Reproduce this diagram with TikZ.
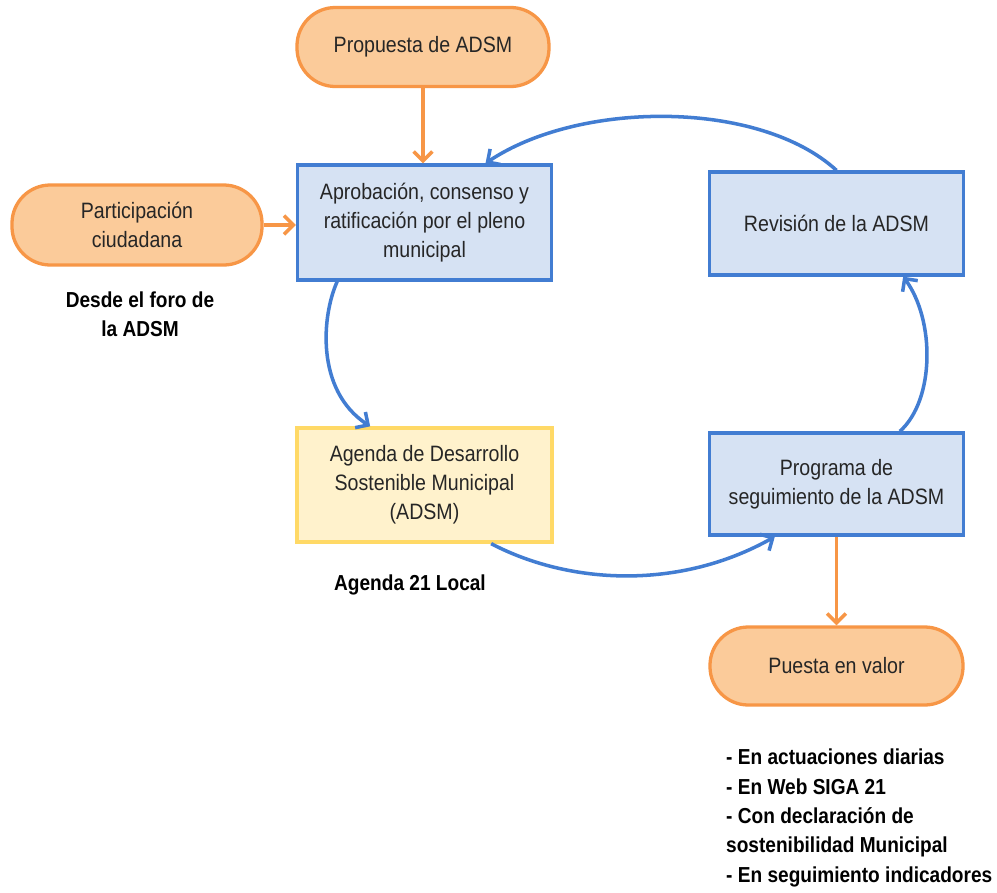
\documentclass[tikz,border=0pt]{standalone}
\usepackage{fontspec}
\setmainfont{Liberation Sans}[FakeStretch=0.88]
\usetikzlibrary{arrows.meta}
\definecolor{orfill}{RGB}{251,203,154}
\definecolor{ordraw}{RGB}{247,150,70}
\definecolor{blfill}{RGB}{214,226,243}
\definecolor{bldraw}{RGB}{66,125,210}
\definecolor{yefill}{RGB}{255,242,204}
\definecolor{yedraw}{RGB}{255,217,102}
\definecolor{txt}{RGB}{38,38,38}
\begin{document}
\begin{tikzpicture}[x=0.03cm,y=-0.03cm,
  basefont/.style={font=\fontsize{19}{24.7}\selectfont},
  pill/.style={draw=ordraw, fill=orfill, line width=2.8pt, rounded corners=1.15cm,
    minimum width=7.56cm, minimum height=2.37cm, align=center, text=txt, basefont},
  bbox/.style={draw=bldraw, fill=blfill, line width=2.8pt, minimum width=7.62cm,
    align=center, text=txt, basefont},
  ybox/.style={draw=yedraw, fill=yefill, line width=2.8pt, minimum width=7.65cm,
    minimum height=3.42cm, align=center, text=txt, basefont},
  lbl/.style={text=black, align=center, inner sep=0pt,
    font=\fontsize{18.5}{25}\selectfont\bfseries},
  oarrow/.style={draw=ordraw, line width=3pt, -{Straight Barb[length=8pt,width=16pt,line width=3pt]}},
  barrow/.style={draw=bldraw, line width=3pt, -{Straight Barb[length=8pt,width=16pt,line width=3pt]}}
]
\useasboundingbox[fill=white] (0,0) rectangle (997,893);

\node[pill] (prop) at (423,47) {Propuesta de ADSM};
\node[bbox, minimum height=3.45cm] (apr) at (424.5,222.5) {Aprobación, consenso y\\ratificación por el pleno\\municipal};
\node[pill, minimum width=7.5cm, minimum height=2.4cm] (part) at (137,225) {Participación\\ciudadana};
\node[bbox, minimum height=3.09cm] (rev) at (836.5,223.5) {Revisión de la ADSM};
\node[ybox] (agen) at (424.5,485) {Agenda de Desarrollo\\Sostenible Municipal\\(ADSM)};
\node[bbox, minimum height=3.06cm] (prog) at (836.5,484) {Programa de\\seguimiento de la ADSM};
\node[pill, minimum width=7.59cm, minimum height=2.34cm] (puesta) at (836.5,666) {Puesta en valor};

\node[lbl] (desde) at (140,314) {Desde el foro de\\la ADSM};
\node[lbl] (a21) at (410,585) {Agenda 21 Local};
\node[lbl, anchor=north west, align=left] (bul) at (726,749) {- En actuaciones diarias\\- En Web SIGA 21\\- Con declaración de\\sostenibilidad Municipal\\- En seguimiento indicadores};

\draw[oarrow] (prop.south) -- (prop.south |- apr.north);
\draw[oarrow] (part.east) -- (part.east -| apr.west);
\draw[oarrow] (prog.south) -- (puesta.north);

\draw[barrow] (rev.north) .. controls (760,100) and (580,100) .. ([xshift=1.83cm]apr.north);
\draw[barrow] ([xshift=-2.62cm]apr.south) .. controls (322,315) and (315,390) .. ([xshift=-1.63cm]agen.north);
\draw[barrow] ([xshift=2cm]agen.south) .. controls (570,585) and (680,590) .. ([xshift=-1.85cm]prog.south);
\draw[barrow] ([xshift=1.9cm]prog.north) .. controls (935,400) and (935,320) .. ([xshift=2cm]rev.south);
\end{tikzpicture}
\end{document}
